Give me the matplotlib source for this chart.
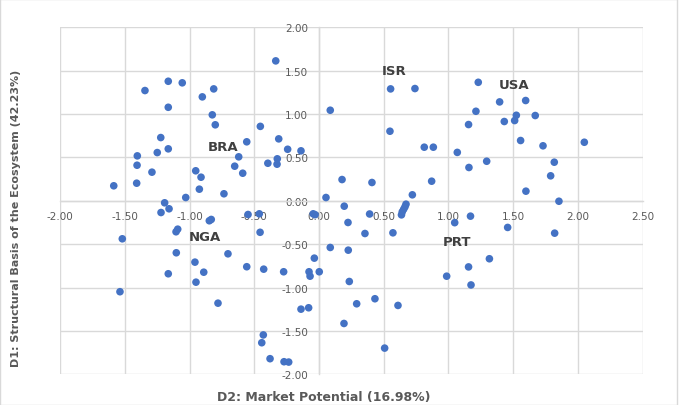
import numpy as np
import matplotlib
matplotlib.use("Agg")
import matplotlib.pyplot as plt
from matplotlib.patches import Rectangle

# --------------------------------------------------------------------------------
# DATA
# --------------------------------------------------------------------------------
d2_vals = [
    # upper left
    -1.164, -1.056, -1.344, -0.813, -0.901, -1.164, -0.824, -0.801, -0.453, -1.222,
    -1.164, -1.249, -1.403, -0.558, -0.620, -1.405, -0.651, -0.395, -1.290, -0.952,
    -0.911, -0.589, -1.585, -1.408, -0.924, -0.734, -1.029, -1.192, -1.158, -1.220,
    # upper middle
    -0.334, 0.087, 0.553, 0.741, 0.548, -0.311, -0.242, -0.139, -0.322, -0.324,
    0.813, 0.883, 1.068, 1.155, 1.158, 0.178, 0.409, 0.870, 0.054, 0.721,
    # upper right
    1.230, 1.395, 1.596, 1.212, 1.524, 1.670, 1.431, 1.511, 1.557, 1.730,
    2.049, 1.295, 1.817, 1.789, 1.598, 1.853,
    # lower left
    -0.832, -0.847, -0.548, -0.461, -0.455, -1.091, -1.104, -1.519, -1.102, -0.703,
    -0.958, -0.558, -0.427, -1.164, -0.890, -0.950, -1.537, -0.780, -0.430, -0.442,
    -0.378, -0.270, -0.234,
    # lower middle
    0.195, -0.045, -0.030, 0.391, 0.672, 0.664, 0.654, 0.643, 0.637, 0.224,
    1.048, 1.170, 0.355, 0.571, 0.087, 0.226, -0.036, -0.273, -0.077, -0.069,
    0.002, 0.234, 0.986, 1.155, 1.174, 0.432, 0.291, 0.610, -0.139, -0.080,
    0.193, 0.507,
    # lower right
    1.457, 1.820, 1.316,
]
d1_vals = [
    1.378, 1.360, 1.271, 1.290, 1.198, 1.078, 0.991, 0.876, 0.858, 0.729,
    0.599, 0.556, 0.518, 0.680, 0.507, 0.410, 0.399, 0.433, 0.330, 0.346,
    0.272, 0.318, 0.173, 0.203, 0.134, 0.081, 0.038, -0.023, -0.092, -0.135,
    1.613, 1.044, 1.290, 1.294, 0.802, 0.714, 0.594, 0.576, 0.484, 0.422,
    0.618, 0.618, 0.558, 0.879, 0.384, 0.245, 0.211, 0.226, 0.038, 0.069,
    1.366, 1.140, 1.156, 1.032, 0.986, 0.983, 0.914, 0.925, 0.695, 0.634,
    0.675, 0.456, 0.445, 0.288, 0.111, -0.005,
    -0.215, -0.230, -0.158, -0.150, -0.363, -0.327, -0.357, -0.438, -0.599, -0.611,
    -0.707, -0.760, -0.788, -0.841, -0.823, -0.938, -1.048, -1.180, -1.546, -1.636,
    -1.820, -1.855, -1.859,
    -0.062, -0.150, -0.160, -0.152, -0.039, -0.069, -0.097, -0.127, -0.162, -0.250,
    -0.252, -0.177, -0.377, -0.369, -0.538, -0.569, -0.661, -0.818, -0.818, -0.869,
    -0.818, -0.930, -0.869, -0.762, -0.970, -1.129, -1.187, -1.206, -1.249, -1.233,
    -1.414, -1.698,
    -0.307, -0.373, -0.668,
]

country_labels = ["BRA", "NGA", "ISR", "USA", "PRT"]
country_d2 = [-0.741, -0.883, 0.577, 1.506, 1.063]
country_d1 = [0.626, -0.415, 1.498, 1.340, -0.465]

x_ticks = np.arange(-2.0, 2.51, 0.5)
y_ticks = np.arange(-2.0, 2.01, 0.5)

# --------------------------------------------------------------------------------
# STYLE
# --------------------------------------------------------------------------------
dot_color = "#4472C4"
grid_color = "#d9d9d9"
tick_color = "#595959"
label_color = "#404040"

# --------------------------------------------------------------------------------
# PLOT
# --------------------------------------------------------------------------------
fig = plt.figure(figsize=(6.82, 4.06), dpi=100)
ax = fig.add_axes([0.088, 0.0756, 0.8544, 0.8547])

ax.set_xlim(-2.0, 2.5)
ax.set_ylim(-2.0, 2.0)
ax.set_xticks(x_ticks)
ax.set_yticks(y_ticks)
ax.set_xticklabels(["%.2f" % v for v in x_ticks])
ax.set_yticklabels(["%.2f" % v for v in y_ticks])

ax.grid(True, color=grid_color, linewidth=1.0, zorder=0)
for line in ax.get_xgridlines() + ax.get_ygridlines():
    line.set_clip_on(False)
ax.set_axisbelow(True)

for side in ["top", "right"]:
    ax.spines[side].set_visible(False)
ax.spines["bottom"].set_position(("data", 0))
ax.spines["left"].set_position(("data", 0))
for side in ["bottom", "left"]:
    ax.spines[side].set_color(grid_color)
    ax.spines[side].set_linewidth(1.0)

ax.tick_params(axis="both", length=0, labelsize=7.5, labelcolor=tick_color)
ax.tick_params(axis="x", pad=7)
ax.tick_params(axis="y", pad=8)

ax.scatter(d2_vals, d1_vals, s=30, color=dot_color, edgecolors="none", zorder=3)

for name, x, y in zip(country_labels, country_d2, country_d1):
    ax.text(x, y, name, fontsize=9.5, fontweight="bold", color=label_color,
            ha="center", va="center", zorder=4)

fig.text(0.0235, 0.463, "D1: Structural Basis of the Ecosystem (42.23%)", rotation=90,
         ha="center", va="center", fontsize=8.0, fontweight="bold", color=tick_color)
# x title sits right at the bottom edge (kept fully inside the figure)
fig.text(0.474, 0.004, "D2: Market Potential (16.98%)", ha="center", va="bottom",
         fontsize=9.0, fontweight="bold", color=tick_color)

# chart border
fig.patches.append(Rectangle((0.0, 0.0), 0.9927, 0.999, transform=fig.transFigure,
                             fill=False, edgecolor=grid_color, linewidth=1.0))

fig.savefig("out.png", dpi=100)
